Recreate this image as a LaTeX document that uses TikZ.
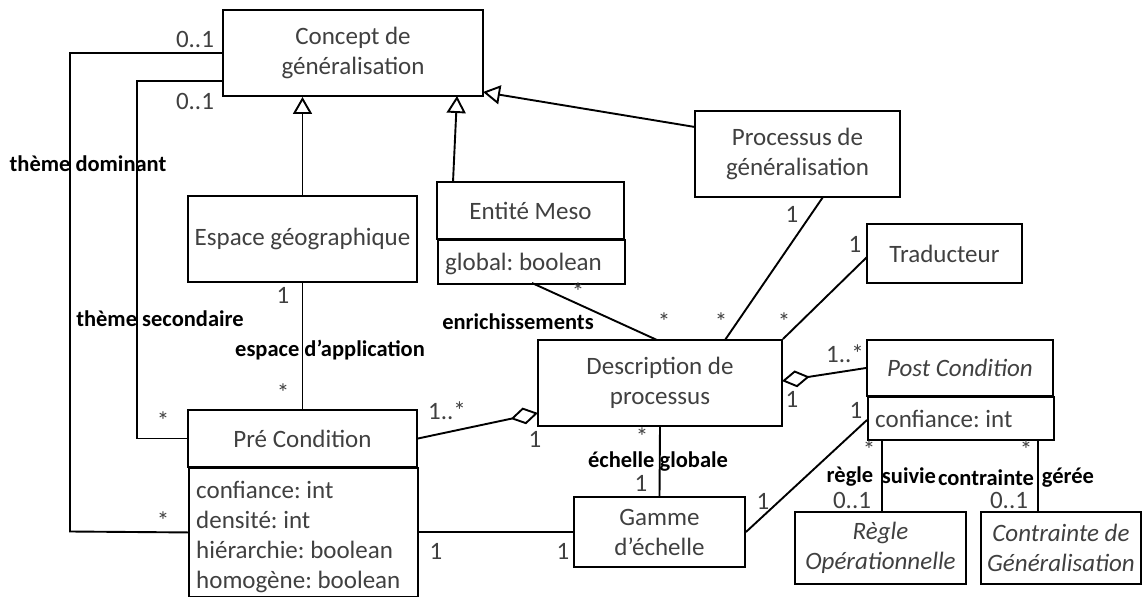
\documentclass[tikz,border=0pt]{standalone}
\usepackage{fontspec}
\setmainfont{Carlito}
\usetikzlibrary{arrows.meta}
\definecolor{txt}{HTML}{404040}
\frenchspacing
\tikzset{
  box/.style={draw, line width=1.9pt, text=txt, align=center, font=\fontsize{25}{30}\selectfont, inner sep=0pt},
  attrbox/.style={draw, line width=1.9pt, anchor=north west, inner sep=0pt},
  attrtext/.style={text=txt, align=left, font=\fontsize{25}{30}\selectfont, inner sep=0pt, anchor=north west},
  conn/.style={line width=1.9pt},
  gen/.style={conn, -{Triangle[open,length=17pt,width=19pt]}},
  agg/.style={conn, -{Diamond[open,length=28pt,width=17pt]}},
  mult/.style={text=txt, font=\fontsize{25}{28}\selectfont, inner sep=0pt},
  role/.style={font=\bfseries\fontsize{22.5}{26}\selectfont, inner sep=0pt},
  itbox/.style={box, font=\itshape\fontsize{25}{30}\selectfont},
}
\begin{document}
\begin{tikzpicture}[x=1pt,y=-1pt]
\useasboundingbox (0,0) rectangle (1144,597);
% classes
\node[box, minimum width=260pt, minimum height=86pt] (concept) at (353,53) {Concept de\\généralisation};
\node[box, minimum width=229pt, minimum height=86pt] (espace) at (302.5,239) {Espace géographique};
\node[box, minimum width=187pt, minimum height=57pt] (entite) at (530.5,210.5) {Entité Meso};
\node[attrbox, minimum width=187pt, minimum height=44pt] (entiteA) at (437,239) {};
\node[attrtext] (entiteT) at (445,253) {global: boolean};
\node[box, minimum width=205pt, minimum height=86pt] (processus) at (797.5,154) {Processus de\\généralisation};
\node[box, minimum width=155pt, minimum height=59pt] (traducteur) at (944.5,253.5) {Traducteur};
\node[itbox, minimum width=186pt, minimum height=56pt] (post) at (960,368) {Post Condition};
\node[attrbox, minimum width=186pt, minimum height=43pt] (postA) at (867,396) {};
\node[attrtext] (postT) at (875,410) {confiance: int};
\node[box, minimum width=244pt, minimum height=86pt] (descr) at (660,383) {Description de\\processus};
\node[box, minimum width=171pt, minimum height=70pt] (gamme) at (659.5,532) {Gamme\\d’échelle};
\node[box, minimum width=229pt, minimum height=57pt] (pre) at (302.5,438.5) {Pré Condition};
\node[attrbox, minimum width=229pt, minimum height=129pt] (preA) at (188,467) {};
\node[attrtext] (preT) at (196,481) {confiance: int\\densité: int\\hiérarchie: boolean\\homogène: boolean};
\node[itbox, minimum width=171pt, minimum height=72pt] (regle) at (880.5,548) {Règle\\Opérationnelle};
\node[itbox, minimum width=160pt, minimum height=72pt] (contr) at (1061,548) {Contrainte de\\Généralisation};
% coordinates on borders
\coordinate (cE) at (457,96);
\coordinate (eN) at (453,182);
\coordinate (cP) at (483,92);
\coordinate (pW) at (695,127);
\coordinate (cL1) at (223,81);
\coordinate (dW) at (538,413);
\coordinate (dE) at (782,381);
\coordinate (pA) at (867,420);
\coordinate (eS) at (532,283);
\coordinate (dN1) at (657,340);
\coordinate (pS) at (823,197);
\coordinate (dN2) at (725,340);
\coordinate (tW) at (867,257);
\coordinate (pS1) at (882,439);
\coordinate (pS2) at (1038,439);
% generalizations
\draw[gen] (espace.north) -- (espace.north |- concept.south);
\draw[gen] (eN) -- (cE);
\draw[gen] (pW) -- (cP);
% associations
\draw[conn] (concept.west) -- (70,53) -- (70,531.5) -- (preA.west);
\draw[conn] (cL1) -- (137,81) -- (137,438.5) -- (pre.west);
\draw[conn] (espace.south) -- (pre.north);
\draw[agg] (pre.east) -- (dW);
\draw[conn] (gamme.west) -- (gamme.west -| preA.east);
\draw[conn] (descr.south) -- (gamme.north);
\draw[conn] (gamme.east) -- (pA);
\draw[agg] (post.west) -- (dE);
\draw[conn] (eS) -- (dN1);
\draw[conn] (pS) -- (dN2);
\draw[conn] (tW) -- (descr.north east);
\draw[conn] (pS1) -- (pS1 |- regle.north);
\draw[conn] (pS2) -- (pS2 |- contr.north);
% multiplicities
\node[mult] (m1) at (195,39) {0..1};
\node[mult] (m2) at (195,101) {0..1};
\node[mult] (m3) at (283,295) {1};
\node[mult] (m4) at (283,393) {*};
\node[mult] (m5) at (163,421) {*};
\node[mult] (m6) at (163,521) {*};
\node[mult] (m7) at (447,411) {1..*};
\node[mult] (m8) at (535,439) {1};
\node[mult] (m9) at (642,437) {*};
\node[mult] (m10) at (641,483) {1};
\node[mult] (m11) at (436,551) {1};
\node[mult] (m12) at (563,551) {1};
\node[mult] (m13) at (763,501) {1};
\node[mult] (m14) at (792,399) {1};
\node[mult] (m15) at (845,354) {1..*};
\node[mult] (m16) at (856,410) {1};
\node[mult] (m17) at (855,244) {1};
\node[mult] (m18) at (792,214) {1};
\node[mult] (m19) at (578,292) {*};
\node[mult] (m20) at (664,322) {*};
\node[mult] (m21) at (721,322) {*};
\node[mult] (m22) at (784,322) {*};
\node[mult] (m23) at (869,450) {*};
\node[mult] (m24) at (1026,450) {*};
\node[mult] (m25) at (852,500) {0..1};
\node[mult] (m26) at (1009,500) {0..1};
% roles
\node[role] (r1) at (88,164) {thème dominant};
\node[role] (r2) at (160,319) {thème secondaire};
\node[role] (r3) at (330,350) {espace d’application};
\node[role] (r4) at (518,322) {enrichissements};
\node[role] (r5) at (658,462) {échelle globale};
\node[role] (r6) at (850,477) {règle};
\node[role] (r7) at (909,476) {suivie};
\node[role] (r8) at (986,478) {contrainte};
\node[role] (r9) at (1068,478) {gérée};
\end{tikzpicture}
\end{document}
